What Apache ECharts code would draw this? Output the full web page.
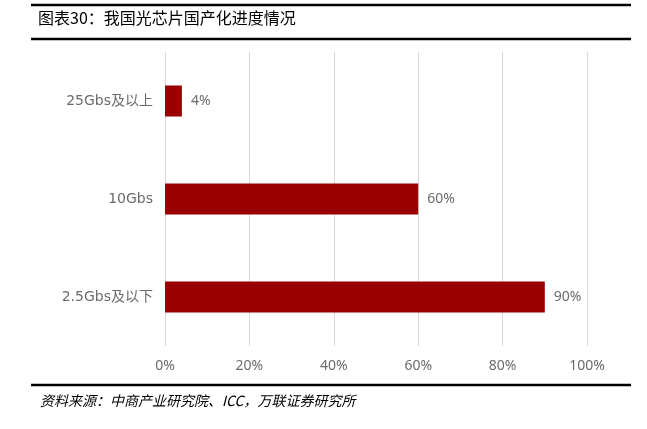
<!DOCTYPE html>
<html>
<head>
<meta charset="utf-8">
<script src="https://cdn.jsdelivr.net/npm/echarts@6/dist/echarts.min.js"></script>
<style>
html,body{margin:0;padding:0;background:#fff;}
#c{width:647px;height:429px;}
</style>
</head>
<body>
<div id="c"></div>
<script>
const categories = ['2.5Gbs及以下', '10Gbs', '25Gbs及以上'];
const values = [90, 60, 4];
const xTicks = [0, 20, 40, 60, 80, 100];
const titleText = '图表30：我国光芯片国产化进度情况';
const sourceText = '资料来源：中商产业研究院、ICC，万联证券研究所';

const numFont = '"Liberation Sans Narrow", "Noto Sans"';
const chart = echarts.init(document.getElementById('c'));
chart.setOption({
  animation: false,
  backgroundColor: '#fff',
  graphic: [
    {type: 'line', shape: {x1: 31, y1: 5, x2: 631, y2: 5}, style: {stroke: '#000', lineWidth: 2.5}},
    {type: 'line', shape: {x1: 31, y1: 39, x2: 631, y2: 39}, style: {stroke: '#000', lineWidth: 2.5}},
    {type: 'text', left: 38, top: 10, style: {text: titleText, fill: '#000', font: '16px "Noto Sans CJK SC"'}},
    {type: 'line', shape: {x1: 31, y1: 385, x2: 631, y2: 385}, style: {stroke: '#000', lineWidth: 2.5}},
    {type: 'text', left: 40, top: 394, style: {text: sourceText, fill: '#000', font: 'italic 14px "Noto Sans CJK SC"'}}
  ],
  grid: {left: 165, right: 60, top: 52, bottom: 83, containLabel: false},
  xAxis: {
    type: 'value', min: xTicks[0], max: xTicks[xTicks.length - 1], interval: 20,
    axisLine: {show: false}, axisTick: {show: false},
    splitLine: {show: true, lineStyle: {color: '#d9d9d9', width: 1}},
    axisLabel: {color: '#6b6b6b', fontSize: 14, margin: 13, fontFamily: numFont, formatter: v => v + '%'}
  },
  yAxis: {
    type: 'category', data: categories,
    axisLine: {show: false}, axisTick: {show: false},
    axisLabel: {color: '#6b6b6b', fontSize: 14, margin: 12, fontFamily: '"DejaVu Sans", "Noto Sans CJK SC"'}
  },
  series: [{
    type: 'bar', data: values, barWidth: 31,
    itemStyle: {color: '#990000'},
    label: {show: true, position: 'right', distance: 9, color: '#6b6b6b', fontSize: 14, fontFamily: numFont, formatter: p => p.value + '%'}
  }]
});
</script>
</body>
</html>
